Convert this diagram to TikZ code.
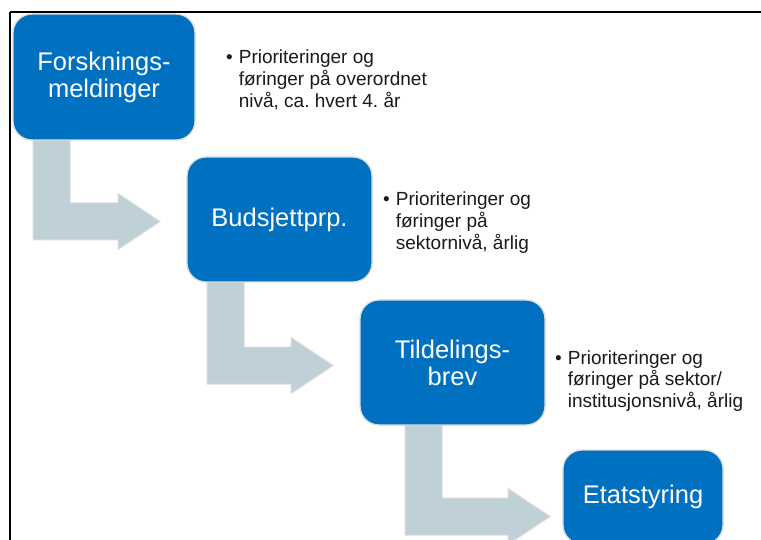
\documentclass[tikz,border=0pt]{standalone}
\usepackage{fontspec}
\setmainfont{Liberation Sans}
\frenchspacing
\definecolor{boxblue}{HTML}{0070C0}
\definecolor{arrowgray}{HTML}{BFD0D6}
\definecolor{edgegray}{HTML}{DCDCDC}
\definecolor{notetext}{HTML}{1A1A1A}
\begin{document}
\begin{tikzpicture}[x=1pt,y=-1pt,
  stage/.style={draw=edgegray,line width=1.3pt,fill=boxblue,rounded corners=19pt,
    text=white,align=center,font=\fontsize{25.5}{27}\selectfont,inner sep=0pt},
  bent/.style={fill=arrowgray,draw=edgegray,line width=1pt,line join=miter},
  note/.style={anchor=base west,inner sep=0pt,text=notetext,font=\fontsize{19}{21.5}\selectfont}]
\useasboundingbox (0,0) rectangle (761,540);
\clip (0,0) rectangle (761,540);
\fill[white] (0,0) rectangle (761,540);
% frame
\draw[line width=2.5pt] (10,12) -- (761,12);
\draw[line width=2.5pt] (10,12) -- (10,541);
% bent arrows
\newcommand\bentarrow[4]{%
  \draw[bent] (#1,#2) -- ({#1+37},#2) -- ({#1+37},{#3-18.5}) -- ({#4-42},{#3-18.5})
    -- ({#4-42},{#3-28}) -- (#4,#3) -- ({#4-42},{#3+28}) -- ({#4-42},{#3+18.5})
    -- (#1,{#3+18.5}) -- cycle;}
\bentarrow{33}{138}{221.5}{160}
\bentarrow{207}{280}{365.5}{333}
\bentarrow{405}{423}{516.5}{550}
% boxes
\node[stage,minimum width=182pt,minimum height=126pt] (b1) at (104,77) {Forsknings-\\meldinger};
\node[stage,minimum width=185pt,minimum height=125pt] (b2) at (279.5,219.5) {Budsjettprp.};
\node[stage,minimum width=185pt,minimum height=125pt] (b3) at (452.5,362.5) {Tildelings-\\brev};
\node[stage,minimum width=160pt,minimum height=94pt] (b4) at (643,497) {Etatstyring};
% notes
\node[note] (n1) at (226,64) {\begin{tabular}[t]{@{}l@{\hspace{6pt}}l@{}}•&Prioriteringer og\\&føringer på overordnet\\&nivå, ca. hvert 4. år\end{tabular}};
\node[note] (n2) at (383,206) {\begin{tabular}[t]{@{}l@{\hspace{6pt}}l@{}}•&Prioriteringer og\\&føringer på\\&sektornivå, årlig\end{tabular}};
\node[note] (n3) at (555,364) {\begin{tabular}[t]{@{}l@{\hspace{6pt}}l@{}}•&Prioriteringer og\\&føringer på sektor/\\&institusjonsnivå, årlig\end{tabular}};
\end{tikzpicture}
\end{document}
